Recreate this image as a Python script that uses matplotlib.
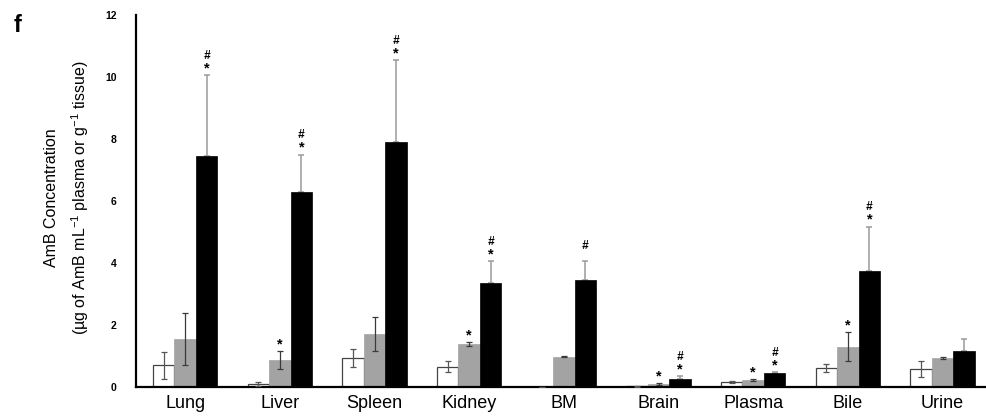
import matplotlib
matplotlib.use("Agg")
import matplotlib.pyplot as plt
import numpy as np

plt.rcParams["font.family"] = ["Liberation Sans", "DejaVu Sans"]
plt.rcParams["mathtext.fontset"] = "custom"
plt.rcParams["mathtext.rm"] = "Liberation Sans"
plt.rcParams["mathtext.it"] = "Liberation Sans:italic"

tissues = ["Lung", "Liver", "Spleen", "Kidney", "BM", "Brain", "Plasma", "Bile", "Urine"]

# three formulations (white / gray / black bars)
white_mean = [0.70, 0.10, 0.94, 0.65, 0.00, 0.02, 0.16, 0.60, 0.58]
white_err = [0.43, 0.07, 0.28, 0.18, 0.00, 0.01, 0.02, 0.13, 0.26]
gray_mean = [1.55, 0.87, 1.71, 1.38, 0.98, 0.10, 0.22, 1.30, 0.94]
gray_err = [0.84, 0.29, 0.56, 0.07, 0.02, 0.03, 0.03, 0.46, 0.04]
black_mean = [7.45, 6.29, 7.90, 3.35, 3.45, 0.26, 0.44, 3.74, 1.16]
black_err = [2.60, 1.20, 2.65, 0.70, 0.60, 0.09, 0.04, 1.43, 0.39]

# significance marks per tissue ("" = none)
gray_marks = ["", "*", "", "*", "", "*", "*", "*", ""]
black_marks = ["#*", "#*", "#*", "#*", "#", "#*", "#*", "#*", ""]

fig = plt.figure(figsize=(9.87, 4.16), dpi=100)
ax = fig.add_axes([136 / 987, 29 / 416, (987 - 136) / 987, (387 - 15) / 416])

x = np.arange(len(tissues))
w = 0.227

ax.bar(x - w, white_mean, w, color="white", edgecolor="#444444", linewidth=0.9, zorder=2)
ax.bar(x, gray_mean, w, color="#a3a3a3", edgecolor="#a3a3a3", linewidth=0.5, zorder=2)
ax.bar(x + w, black_mean, w, color="black", edgecolor="black", linewidth=0.5, zorder=2)

ax.errorbar(x - w, white_mean, yerr=white_err, fmt="none", ecolor="#555555",
            elinewidth=0.9, capsize=2.5, capthick=0.9, zorder=3)
ax.errorbar(x, gray_mean, yerr=gray_err, fmt="none", ecolor="#3a3a3a",
            elinewidth=0.9, capsize=2.5, capthick=0.9, zorder=3)
ax.errorbar(x + w, black_mean, yerr=[np.zeros(len(x)), black_err], fmt="none",
            ecolor="#9a9a9a", elinewidth=1.1, capsize=2.5, capthick=1.1, zorder=1)


def mark(xpos, top, marks):
    if "*" in marks:
        ax.annotate("*", (xpos, top), xytext=(0, 5), textcoords="offset points",
                    ha="center", va="center", fontsize=10.5, fontweight="bold")
    if "#" in marks:
        off = 14 if "*" in marks else 11
        ax.annotate("#", (xpos, top), xytext=(0, off), textcoords="offset points",
                    ha="center", va="center", fontsize=8.5, fontweight="bold",
                    style="italic")


for i in range(len(tissues)):
    mark(x[i], gray_mean[i] + gray_err[i], gray_marks[i])
    mark(x[i] + w, black_mean[i] + black_err[i], black_marks[i])

ax.set_xlim(-0.52, 8.47)
ax.set_ylim(0, 12)
ax.set_yticks([0, 2, 4, 6, 8, 10, 12])
ax.set_yticklabels(["0", "2", "4", "6", "8", "10", "12"], fontsize=7.5, fontweight="bold")
ax.set_xticks(x)
ax.set_xticklabels(tissues, fontsize=13)
ax.tick_params(axis="y", length=0, pad=14)
ax.tick_params(axis="x", length=0, pad=6)

for s in ["top", "right"]:
    ax.spines[s].set_visible(False)
ax.spines["left"].set_linewidth(1.6)
ax.spines["bottom"].set_linewidth(1.6)

fig.text(52 / 987, 1 - 198 / 416, "AmB Concentration", rotation=90,
         ha="center", va="center", fontsize=11.5)
fig.text(80 / 987, 1 - 198 / 416,
         r"(µg of AmB mL$^{-1}$ plasma or g$^{-1}$ tissue)", rotation=90,
         ha="center", va="center", fontsize=11.5)
fig.text(14 / 987, 1 - 26 / 416, "f", fontsize=17, fontweight="bold",
         ha="left", va="center")

fig.savefig("out.png", dpi=100)
